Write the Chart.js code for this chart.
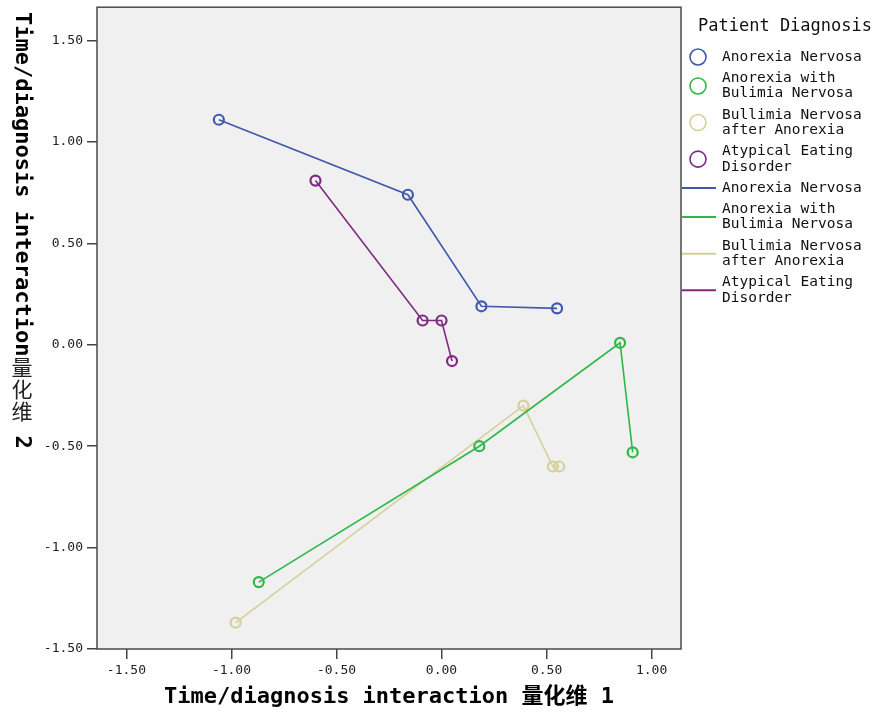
<!DOCTYPE html>
<html>
<head>
<meta charset="utf-8">
<script src="https://cdn.jsdelivr.net/npm/chart.js@4"></script>
<style>
    html, body { margin: 0; padding: 0; background: #fff; }
    #wrap { width: 877px; height: 715px; }
</style>
</head>
<body>
<div id="wrap"><canvas id="mainChart" width="877" height="715"></canvas></div>
<script>
// Series
const seriesNames = [
    ['Anorexia Nervosa'],
    ['Anorexia with', 'Bulimia Nervosa'],
    ['Bullimia Nervosa', 'after Anorexia'],
    ['Atypical Eating', 'Disorder']
];
const anorexiaX = [-1.06, -0.16, 0.19, 0.55];
const anorexiaY = [1.11, 0.74, 0.19, 0.18];
const bulimiaX = [-0.87, 0.18, 0.85, 0.91];
const bulimiaY = [-1.17, -0.50, 0.01, -0.53];
const afterAnorexiaX = [-0.98, 0.39, 0.53, 0.56];
const afterAnorexiaY = [-1.37, -0.30, -0.60, -0.60];
const atypicalX = [-0.60, -0.09, 0.00, 0.05];
const atypicalY = [0.81, 0.12, 0.12, -0.08];

const xTicks = [-1.5, -1.0, -0.5, 0, 0.5, 1.0];
const yTicks = [-1.5, -1.0, -0.5, 0, 0.5, 1.0, 1.5];

const legendTitle = 'Patient Diagnosis';
const xTitle = 'Time/diagnosis interaction 量化维 1';
const yTitleLatin = 'Time/diagnosis interaction';
const yTitleCjk = '量化维';
const yTitleTail = ' 2';

const seriesX = [anorexiaX, bulimiaX, afterAnorexiaX, atypicalX];
const seriesY = [anorexiaY, bulimiaY, afterAnorexiaY, atypicalY];
const colors = ['#4258ad', '#2fb847', '#d5cf98', '#7f2a80'];

const MONO = '"DejaVu Sans Mono", "Noto Sans CJK SC", monospace';

// plot background + frame
const framePlugin = {
    id: 'frame',
    beforeDraw(chart) {
        const { ctx, chartArea: a } = chart;
        ctx.save();
        ctx.fillStyle = '#f0f0f0';
        ctx.fillRect(a.left, a.top, a.right - a.left, a.bottom - a.top);
        ctx.restore();
    },
    afterDraw(chart) {
        const { ctx, chartArea: a } = chart;
        ctx.save();
        ctx.strokeStyle = '#4a4a4a';
        ctx.lineWidth = 1.5;
        ctx.strokeRect(a.left, a.top, a.right - a.left, a.bottom - a.top);
        ctx.restore();
    }
};

// vertical y title: latin rotated, CJK upright (as in the reference)
const yTitlePlugin = {
    id: 'yTitle',
    afterDraw(chart) {
        const ctx = chart.ctx;
        const x = 22, y0 = 12;
        ctx.save();
        ctx.fillStyle = '#000';
        ctx.font = 'bold 22px ' + MONO;
        const w = ctx.measureText(yTitleLatin).width;
        ctx.translate(x, y0);
        ctx.rotate(Math.PI / 2);
        ctx.textAlign = 'left';
        ctx.textBaseline = 'middle';
        ctx.fillText(yTitleLatin, 0, 0);
        ctx.restore();

        ctx.save();
        ctx.fillStyle = '#222';
        ctx.font = '21px "Noto Sans CJK SC"';
        ctx.textAlign = 'center';
        ctx.textBaseline = 'middle';
        let y = y0 + w;
        for (const ch of yTitleCjk) {
            ctx.fillText(ch, x, y + 11);
            y += 22;
        }
        ctx.restore();

        ctx.save();
        ctx.fillStyle = '#000';
        ctx.font = 'bold 22px ' + MONO;
        ctx.translate(x, y);
        ctx.rotate(Math.PI / 2);
        ctx.textAlign = 'left';
        ctx.textBaseline = 'middle';
        ctx.fillText(yTitleTail, 0, 0);
        ctx.restore();
    }
};

// legend: marker entries then line entries, multi-line labels
const legendPlugin = {
    id: 'spssLegend',
    afterDraw(chart) {
        const ctx = chart.ctx;
        const lineH = 15.3, gap = 21.3;
        const textX = 722;
        ctx.save();
        ctx.fillStyle = '#111';
        ctx.font = '17px ' + MONO;
        ctx.textBaseline = 'middle';
        ctx.fillText(legendTitle, 698, 27);

        ctx.font = '14.5px ' + MONO;
        let y = 57;
        chart.data.datasets.forEach((ds, i) => {
            const lines = seriesNames[i];
            const mid = y + (lines.length - 1) * lineH / 2;
            ctx.strokeStyle = ds.borderColor;
            ctx.lineWidth = 1.6;
            ctx.beginPath();
            ctx.arc(698, mid, 8, 0, Math.PI * 2);
            ctx.stroke();
            ctx.fillStyle = '#111';
            lines.forEach((t, k) => ctx.fillText(t, textX, y + k * lineH));
            y += (lines.length - 1) * lineH + gap;
        });
        chart.data.datasets.forEach((ds, i) => {
            const lines = seriesNames[i];
            const mid = y + (lines.length - 1) * lineH / 2;
            ctx.strokeStyle = ds.borderColor;
            ctx.lineWidth = 2;
            ctx.beginPath();
            ctx.moveTo(682, mid);
            ctx.lineTo(716, mid);
            ctx.stroke();
            ctx.fillStyle = '#111';
            lines.forEach((t, k) => ctx.fillText(t, textX, y + k * lineH));
            y += (lines.length - 1) * lineH + gap;
        });
        ctx.restore();
    }
};

const ctx = document.getElementById('mainChart').getContext('2d');
new Chart(ctx, {
    type: 'scatter',
    data: {
        datasets: seriesNames.map((name, i) => ({
            label: name.join(' '),
            data: seriesX[i].map((x, j) => ({ x: x, y: seriesY[i][j] })),
            showLine: true,
            borderColor: colors[i],
            backgroundColor: 'rgba(0,0,0,0)',
            borderWidth: 1.6,
            pointRadius: 5,
            pointBorderWidth: 2.2,
            pointBorderColor: colors[i],
            pointBackgroundColor: 'rgba(0,0,0,0)',
            order: [3, 1, 2, 0][i]
        }))
    },
    options: {
        responsive: false,
        animation: false,
        events: [],
        layout: { padding: { left: 0, top: 7, right: 196, bottom: 0 } },
        plugins: { legend: { display: false }, tooltip: { enabled: false } },
        scales: {
            x: {
                type: 'linear', min: -1.64, max: 1.14,
                afterFit: s => { s.height = 66; s.paddingLeft = 0; s.paddingRight = 0; },
                afterBuildTicks: s => { s.ticks = xTicks.map(v => ({ value: v })); },
                ticks: { padding: 4, color: '#222', maxRotation: 0, autoSkip: false,
                    font: { family: MONO, size: 13 }, callback: v => v.toFixed(2) },
                grid: { drawOnChartArea: false, drawTicks: true, tickLength: 10, color: '#444', lineWidth: 1.5 },
                border: { display: false },
                title: { display: true, text: xTitle, color: '#000', padding: { top: 0, bottom: 5 },
                    font: { family: MONO, size: 22, weight: 'bold' } }
            },
            y: {
                type: 'linear', min: -1.5, max: 1.665,
                afterFit: s => { s.width = 97; s.paddingTop = 0; s.paddingBottom = 0; },
                afterBuildTicks: s => { s.ticks = yTicks.map(v => ({ value: v })); },
                ticks: { padding: 4, color: '#222', autoSkip: false,
                    font: { family: MONO, size: 13 }, callback: v => v.toFixed(2) },
                grid: { drawOnChartArea: false, drawTicks: true, tickLength: 10, color: '#444', lineWidth: 1.5 },
                border: { display: false },
                title: { display: false }
            }
        }
    },
    plugins: [framePlugin, yTitlePlugin, legendPlugin]
});
</script>
</body>
</html>
